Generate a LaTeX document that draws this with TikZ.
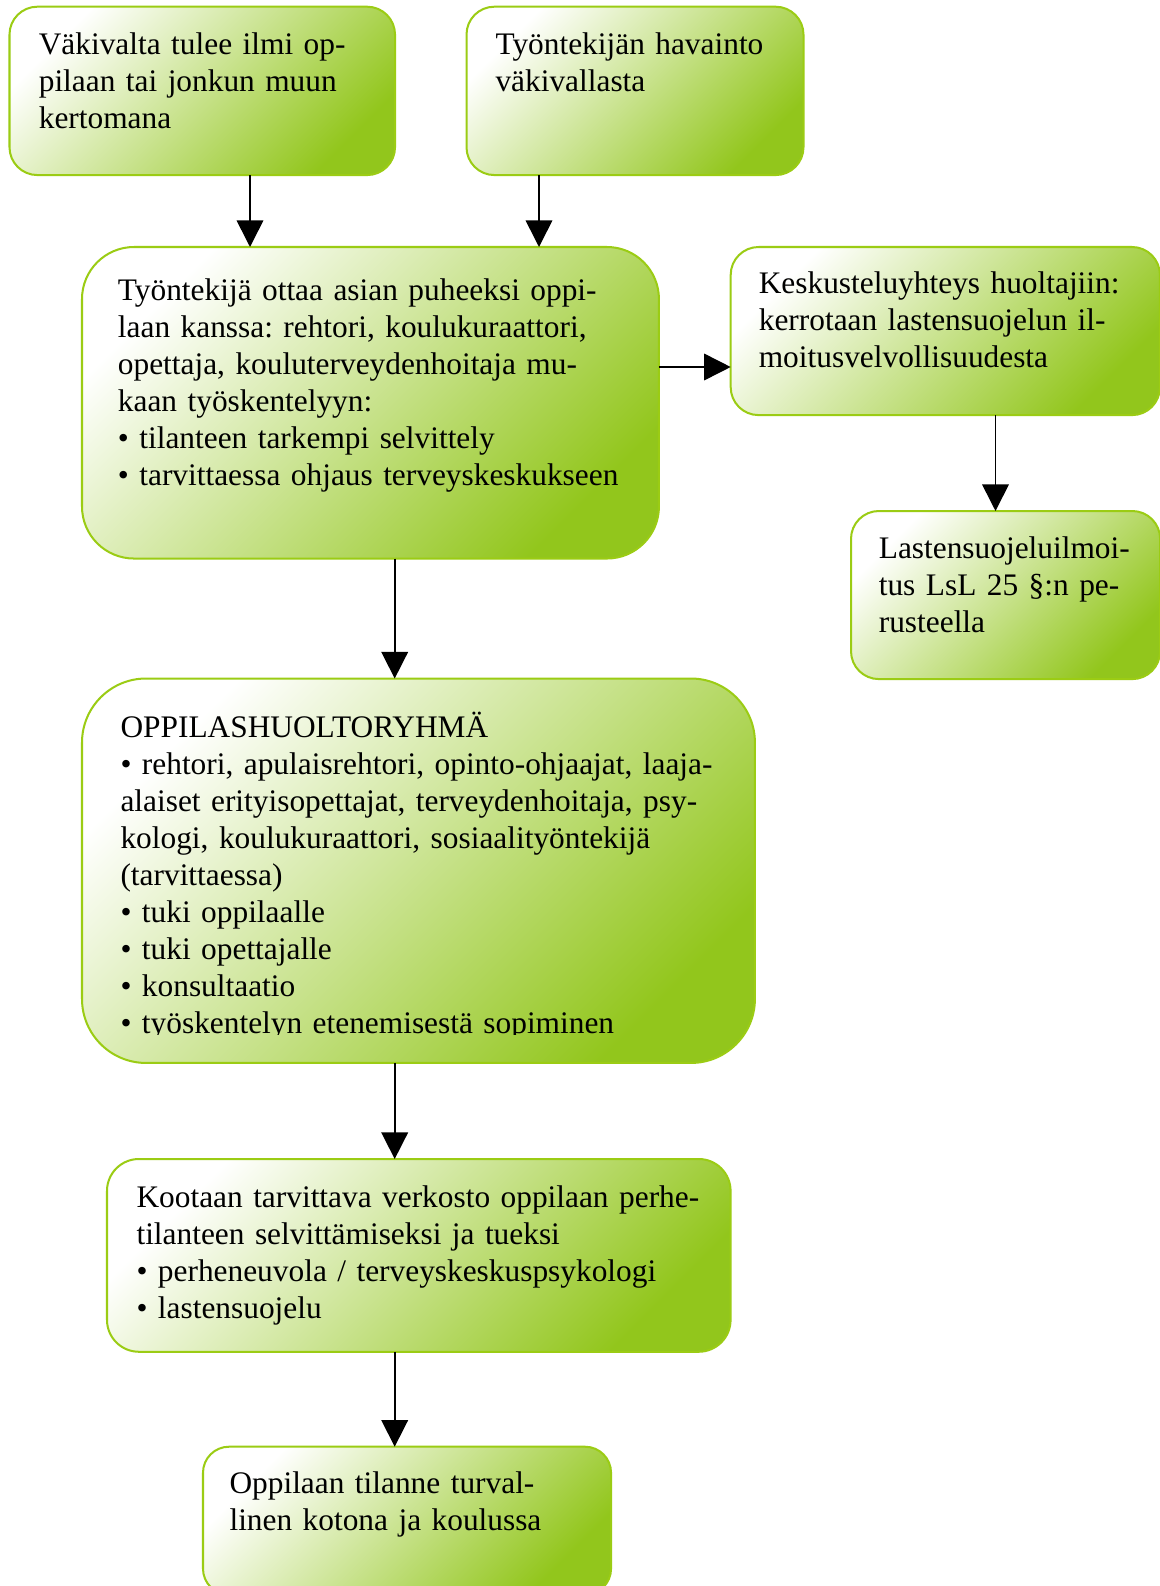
\documentclass[tikz,border=0pt]{standalone}
\usepackage{fontspec}
\setmainfont{Liberation Serif}
\usetikzlibrary{arrows.meta}
\definecolor{bord}{RGB}{155,204,20}
\definecolor{gend}{RGB}{146,198,28}
\newcommand\mystrut{\rule{0pt}{12pt}}
\frenchspacing
\begin{document}
\begin{tikzpicture}[x=0.373pt,y=-0.373pt,
  box/.style={draw=bord, line width=0.75pt, top color=white, bottom color=gend, shading angle=45, anchor=north west, inner sep=0pt, outer sep=0pt},
  txt/.style={anchor=north west, inner sep=0pt, align=left, text width=260pt, font=\fontsize{11.7pt}{13.8pt}\selectfont\frenchspacing},
  arr/.style={line width=0.6pt, -{Triangle[length=9.9pt,width=9.9pt]}}]
\useasboundingbox (0,0) rectangle (1160,1586);
\fill[white] (0,0) rectangle (1160,1586);

% boxes
\node[box, rounded corners=10.4pt, minimum width=143.8pt, minimum height=62.8pt] (A) at (9.5,6.7) {};
\node[box, rounded corners=10.4pt, minimum width=125.7pt, minimum height=62.8pt] (B) at (466.5,6.7) {};
\node[box, rounded corners=19.4pt, minimum width=215.2pt, minimum height=116.2pt] (C) at (82,247) {};
\node[box, rounded corners=10.4pt, minimum width=160.1pt, minimum height=62.7pt] (D) at (730.7,247) {};
\node[box, rounded corners=10.4pt, minimum width=115.3pt, minimum height=62.7pt] (E) at (851,511) {};
\node[box, rounded corners=23.9pt, minimum width=251.0pt, minimum height=143.4pt] (F) at (82,678.5) {};
\node[box, rounded corners=11.9pt, minimum width=232.6pt, minimum height=71.9pt] (G) at (107,1159) {};
\node[box, rounded corners=9.7pt, minimum width=152.2pt, minimum height=55.2pt] (H) at (203,1446.7) {};

% texts
\node[txt] (At) at (38.3,22.1) {\mystrut Väkivalta tulee ilmi op-\\pilaan tai jonkun muun\\kertomana};
\node[txt] (Bt) at (495,22.1) {\mystrut Työntekijän havainto\\väkivallasta};
\node[txt] (Ct) at (117.4,267.8) {\mystrut Työntekijä ottaa asian puheeksi oppi-\\laan kanssa: rehtori, koulukuraattori,\\opettaja, kouluterveydenhoitaja mu-\\kaan työskentelyyn:\\• tilanteen tarkempi selvittely\\• tarvittaessa ohjaus terveyskeskukseen};
\node[txt] (Dt) at (758.3,261.1) {\mystrut Keskusteluyhteys huoltajiin:\\kerrotaan lastensuojelun il-\\moitusvelvollisuudesta};
\node[txt] (Et) at (878.3,526.1) {\mystrut Lastensuojeluilmoi-\\tus LsL 25 §:n pe-\\rusteella};
\begin{scope}
\clip (82,678) rectangle (760,1034);
\node[txt] (Ft) at (120,704.5) {\mystrut OPPILASHUOLTORYHMÄ\\• rehtori, apulaisrehtori, opinto-ohjaajat, laaja-\\alaiset erityisopettajat, terveydenhoitaja, psy-\\kologi, koulukuraattori, sosiaalityöntekijä\\(tarvittaessa)\\• tuki oppilaalle\\• tuki opettajalle\\• konsultaatio\\• työskentelyn etenemisestä sopiminen};
\end{scope}
\node[txt] (Gt) at (136,1174.5) {\mystrut Kootaan tarvittava verkosto oppilaan perhe-\\tilanteen selvittämiseksi ja tueksi\\• perheneuvola / terveyskeskuspsykologi\\• lastensuojelu};
\node[txt] (Ht) at (229,1460.8) {\mystrut Oppilaan tilanne turval-\\linen kotona ja koulussa};

% connectors
\draw[arr] (A.south -| 250,0) -- (C.north -| 250,0);
\draw[arr] (B.south -| 539,0) -- (C.north -| 539,0);
\draw[arr] (C.east |- 0,367) -- (D.west |- 0,367);
\draw[arr] (D.south -| 995.5,0) -- (E.north -| 995.5,0);
\draw[arr] (C.south -| 394.7,0) -- (F.north -| 394.7,0);
\draw[arr] (F.south -| 394.7,0) -- (G.north -| 394.7,0);
\draw[arr] (G.south -| 394.7,0) -- (H.north -| 394.7,0);
\end{tikzpicture}
\end{document}
